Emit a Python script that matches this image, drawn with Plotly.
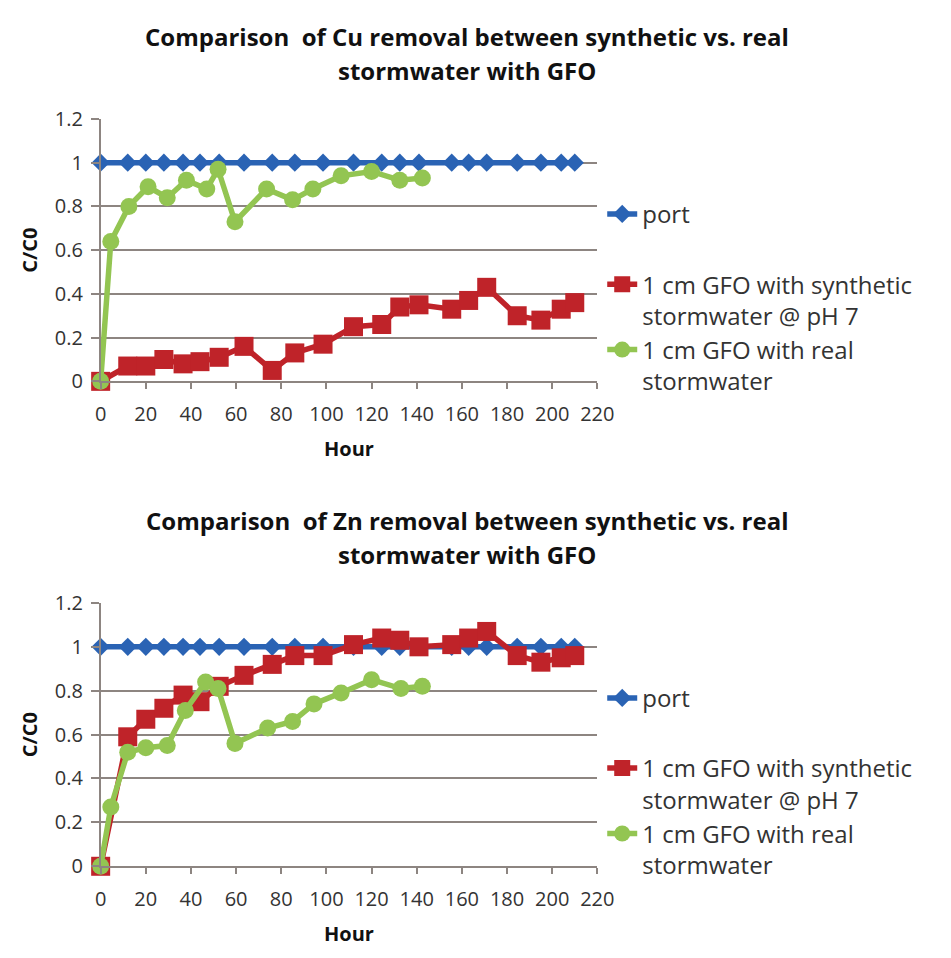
import plotly.graph_objects as go

W, H = 951, 958  # reference canvas size, used to convert pixel positions to paper fractions

# ---------------- data ----------------
hours_series = [0, 12, 20, 28, 36.5, 44, 52.5, 63.5, 76, 86, 98.5, 112, 124.5,
                132.5, 141, 155.5, 163, 171, 184.5, 195, 204, 210]
hours_real_cu = [0, 4.5, 12.5, 21, 29.5, 38, 47, 52, 59.5, 73.5, 85, 94,
                 106.5, 120, 132.5, 142.5]
hours_real_zn = [0, 4.5, 12, 20, 29.5, 37.5, 46.5, 52, 59.5, 74, 85, 94.5,
                 106.5, 120, 133, 142.5]

cu_port = [1.0] * 22
cu_synthetic = [0, 0.07, 0.07, 0.10, 0.08, 0.09, 0.11, 0.16, 0.05, 0.13, 0.17,
                0.25, 0.26, 0.34, 0.35, 0.33, 0.37, 0.43, 0.30, 0.28, 0.33, 0.36]
cu_real = [0, 0.64, 0.80, 0.89, 0.84, 0.92, 0.88, 0.97, 0.73, 0.88, 0.83,
           0.88, 0.94, 0.96, 0.92, 0.93]

zn_port = [1.0] * 22
zn_synthetic = [0, 0.59, 0.67, 0.72, 0.78, 0.75, 0.82, 0.87, 0.92, 0.96, 0.96,
                1.01, 1.04, 1.03, 1.00, 1.01, 1.04, 1.07, 0.96, 0.93, 0.95, 0.96]
zn_real = [0, 0.27, 0.52, 0.54, 0.55, 0.71, 0.84, 0.81, 0.56, 0.63, 0.66,
           0.74, 0.79, 0.85, 0.81, 0.82]

series_names = ["port", "1 cm GFO with synthetic<br>stormwater @ pH 7",
                "1 cm GFO with real<br>stormwater"]
titles = [("Comparison  of Cu removal between synthetic vs. real", "stormwater with GFO"),
          ("Comparison  of Zn removal between synthetic vs. real", "stormwater with GFO")]
x_ticks = list(range(0, 221, 20))
y_ticks = [0, 0.2, 0.4, 0.6, 0.8, 1.0, 1.2]

BLUE = "#2a63b4"
RED = "#bf2329"
GREEN = "#93c552"
GRID = "#8d8581"

fig = go.Figure()

def px_x(p):
    return p / W

def px_y(p):
    return 1 - p / H

charts = [
    dict(xa="x", ya="y", leg="legend", port=cu_port, syn=cu_synthetic, real=cu_real,
         hreal=hours_real_cu),
    dict(xa="x2", ya="y2", leg="legend2", port=zn_port, syn=zn_synthetic, real=zn_real,
         hreal=hours_real_zn),
]

for c in charts:
    fig.add_trace(go.Scatter(
        x=hours_series, y=c["port"], name=series_names[0], mode="lines+markers",
        line=dict(color=BLUE, width=5.5), marker=dict(symbol="diamond", size=14, color=BLUE),
        xaxis=c["xa"], yaxis=c["ya"], legend=c["leg"], legendgroup="g1", cliponaxis=False))
    fig.add_trace(go.Scatter(
        x=hours_series, y=c["syn"], name=series_names[1], mode="lines+markers",
        line=dict(color=RED, width=5.5), marker=dict(symbol="square", size=19, color=RED),
        xaxis=c["xa"], yaxis=c["ya"], legend=c["leg"], legendgroup="g2", cliponaxis=False))
    fig.add_trace(go.Scatter(
        x=c["hreal"], y=c["real"], name=series_names[2], mode="lines+markers",
        line=dict(color=GREEN, width=5.5), marker=dict(symbol="circle", size=17, color=GREEN),
        xaxis=c["xa"], yaxis=c["ya"], legend=c["leg"], legendgroup="g2", cliponaxis=False))

xdom = [px_x(97), px_x(606)]
ydoms = [[px_y(378), px_y(108)], [px_y(877), px_y(606)]]

axis_font = dict(family="Open Sans", size=20, color="#333333")
title_font = dict(family="Open Sans", size=20, color="#111111")

common_x = dict(range=[0, 220], tickvals=x_ticks, ticks="outside", ticklen=6,
                tickcolor=GRID, tickwidth=1.5, showline=True, linecolor=GRID, linewidth=1.5,
                showgrid=False, zeroline=False, tickfont=axis_font, ticklabelstandoff=8,
                title=dict(text="<b>Hour</b>", font=title_font, standoff=16),
                fixedrange=True)
common_y = dict(range=[0, 1.2], tickvals=y_ticks, ticks="outside", ticklen=8,
                tickcolor=GRID, tickwidth=1.5, showline=True, linecolor=GRID, linewidth=1.5,
                showgrid=True, gridcolor=GRID, gridwidth=1.5, zeroline=False,
                tickfont=axis_font, ticklabelstandoff=4,
                title=dict(text="<b>C/C0</b>", font=title_font, standoff=12),
                fixedrange=True)

legend_common = dict(xanchor="left", yanchor="top", valign="top", traceorder="grouped",
                     tracegroupgap=36, groupclick="toggleitem",
                     font=dict(family="Open Sans", size=24, color="#333333"),
                     bgcolor="rgba(0,0,0,0)", borderwidth=0)

annotations = []
for i, (l1, l2) in enumerate(titles):
    off = 0 if i == 0 else 498
    for txt, yy in ((l1, 23), (l2, 58)):
        annotations.append(dict(text="<b>" + txt + "</b>", x=px_x(472), y=px_y(yy + off),
                                xref="paper", yref="paper", showarrow=False,
                                xanchor="center", yanchor="middle",
                                font=dict(family="Open Sans", size=24, color="#111111")))

fig.update_layout(
    width=W, height=H, autosize=False,
    margin=dict(l=0, r=0, t=0, b=0),
    paper_bgcolor="white", plot_bgcolor="white",
    xaxis=dict(domain=xdom, anchor="y", **common_x),
    yaxis=dict(domain=ydoms[0], anchor="x", **common_y),
    xaxis2=dict(domain=xdom, anchor="y2", **common_x),
    yaxis2=dict(domain=ydoms[1], anchor="x2", **common_y),
    legend=dict(x=px_x(611), y=px_y(183), **legend_common),
    legend2=dict(x=px_x(611), y=px_y(681), **legend_common),
    annotations=annotations,
    showlegend=True,
)

fig.write_html(
    "out.html",
    config={"displayModeBar": False},
    post_script="document.body.style.margin='0px';document.body.style.padding='0px';"
                "document.documentElement.style.overflow='hidden';",
)
